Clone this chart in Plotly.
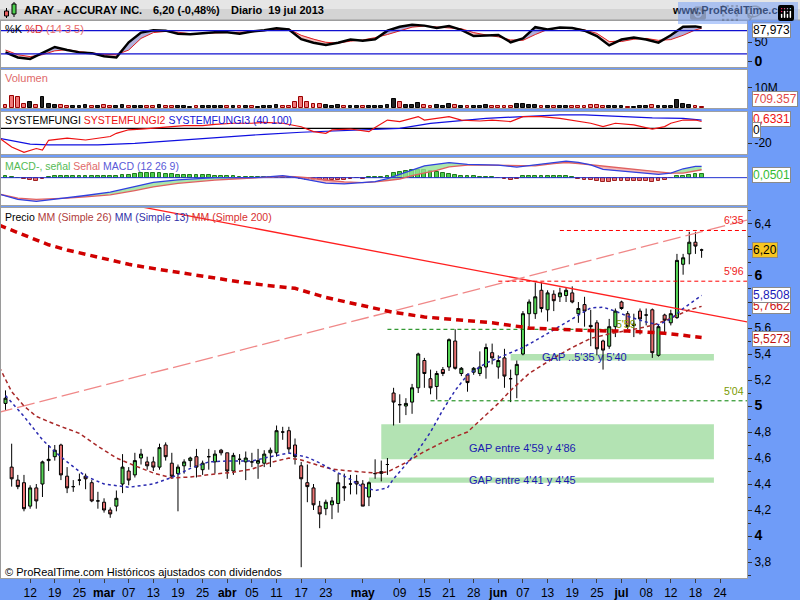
import plotly.graph_objects as go

# ---------------- data ----------------
feb_days = [6, 7, 8, 11, 12, 13, 14, 15, 19, 20, 21, 22, 25, 26, 27, 28]
mar_days = [1, 4, 5, 6, 7, 8, 11, 12, 13, 14, 15, 18, 19, 20, 21, 22, 25, 26, 27, 28]
apr_days = [1, 2, 3, 4, 5, 8, 9, 10, 11, 12, 15, 16, 17, 18, 19, 22, 23, 24, 25, 26, 29, 30]
may_days = [1, 2, 3, 6, 7, 8, 9, 10, 13, 14, 15, 16, 17, 20, 21, 22, 23, 24, 28, 29, 30, 31]
jun_days = [3, 4, 5, 6, 7, 10, 11, 12, 13, 14, 17, 18, 19, 20, 21, 24, 25, 26, 27, 28]
jul_days = [1, 2, 3, 5, 8, 9, 10, 11, 12, 15, 16, 17, 18, 19]
future_jul_days = [22, 23, 24, 25, 26]

tick_dates = ["2013-02-12", "2013-02-19", "2013-02-25", "2013-03-01", "2013-03-07", "2013-03-13",
              "2013-03-19", "2013-03-25", "2013-04-01", "2013-04-05", "2013-04-11", "2013-04-17",
              "2013-04-23", "2013-05-01", "2013-05-09", "2013-05-15", "2013-05-21", "2013-05-28",
              "2013-06-03", "2013-06-07", "2013-06-13", "2013-06-19", "2013-06-25", "2013-07-01",
              "2013-07-08", "2013-07-12", "2013-07-18", "2013-07-24"]
tick_labels = ["12", "19", "25", "mar", "07", "13", "19", "25", "abr", "05", "11", "17", "23", "may",
               "09", "15", "21", "28", "jun", "07", "13", "19", "25", "jul", "08", "12", "18", "24"]

open_ = [5.02, 4.53, 4.43, 4.41, 4.23, 4.37, 4.40, 4.58, 4.61, 4.70,
         4.46, 4.38, 4.43, 4.46, 4.41, 4.27, 4.26, 4.20, 4.23, 4.40,
         4.50, 4.47, 4.60, 4.57, 4.57, 4.53, 4.70, 4.56, 4.48, 4.54,
         4.58, 4.61, 4.51, 4.61, 4.57, 4.66, 4.64, 4.50, 4.59, 4.57,
         4.57, 4.56, 4.56, 4.64, 4.64, 4.80, 4.81, 4.70, 4.54, 4.41,
         4.37, 4.23, 4.21, 4.24, 4.25, 4.38, 4.40, 4.42, 4.40, 4.30,
         4.48, 4.495, 4.55, 5.10, 5.01, 5.00, 5.03, 5.14, 5.35, 5.21,
         5.15, 5.28, 5.30, 5.50, 5.25, 5.24, 5.26, 5.25, 5.30, 5.41,
         5.30, 5.37, 5.21, 5.24, 5.40, 5.71, 5.71, 5.89, 5.74, 5.86,
         5.84, 5.85, 5.87, 5.71, 5.78, 5.62, 5.64, 5.50, 5.46, 5.61,
         5.80, 5.71, 5.63, 5.73, 5.70, 5.74, 5.39, 5.70, 5.64, 5.68,
         6.09, 6.17, 6.26, 6.20]
high = [5.12, 4.71, 4.47, 4.47, 4.39, 4.40, 4.58, 4.70, 4.70, 4.71,
        4.53, 4.43, 4.48, 4.48, 4.43, 4.34, 4.29, 4.22, 4.35, 4.63,
        4.53, 4.64, 4.67, 4.61, 4.61, 4.71, 4.72, 4.64, 4.55, 4.59,
        4.61, 4.67, 4.58, 4.67, 4.66, 4.67, 4.64, 4.64, 4.63, 4.65,
        4.64, 4.67, 4.66, 4.68, 4.85, 4.84, 4.84, 4.75, 4.57, 4.55,
        4.40, 4.27, 4.28, 4.30, 4.48, 4.48, 4.47, 4.47, 4.43, 4.42,
        4.59, 4.58, 4.60, 5.14, 5.09, 5.06, 5.17, 5.41, 5.37, 5.28,
        5.27, 5.30, 5.52, 5.59, 5.30, 5.25, 5.30, 5.42, 5.48, 5.48,
        5.39, 5.44, 5.28, 5.35, 5.73, 5.82, 5.95, 5.95, 5.89, 5.89,
        5.91, 5.91, 5.92, 5.80, 5.84, 5.74, 5.66, 5.51, 5.67, 5.75,
        5.81, 5.73, 5.71, 5.75, 5.75, 5.75, 5.63, 5.71, 5.74, 6.17,
        6.17, 6.34, 6.34, 6.21]
low = [4.97, 4.38, 4.36, 4.19, 4.21, 4.21, 4.30, 4.50, 4.58, 4.43,
       4.33, 4.34, 4.39, 4.36, 4.26, 4.21, 4.18, 4.14, 4.19, 4.33,
       4.39, 4.45, 4.55, 4.51, 4.50, 4.51, 4.58, 4.44, 4.19, 4.48,
       4.53, 4.45, 4.47, 4.51, 4.48, 4.62, 4.44, 4.47, 4.55, 4.43,
       4.53, 4.44, 4.53, 4.53, 4.61, 4.74, 4.64, 4.55, 3.76, 4.26,
       4.20, 4.06, 4.16, 4.13, 4.18, 4.27, 4.32, 4.32, 4.23, 4.23,
       4.44, 4.42, 4.47, 4.85, 4.87, 4.93, 4.94, 5.10, 5.14, 5.09,
       5.05, 5.23, 5.27, 5.28, 5.23, 5.11, 5.24, 5.23, 5.21, 5.32,
       5.21, 5.14, 5.03, 5.06, 5.39, 5.61, 5.67, 5.72, 5.65, 5.73,
       5.80, 5.80, 5.79, 5.64, 5.61, 5.46, 5.39, 5.28, 5.44, 5.53,
       5.74, 5.59, 5.53, 5.55, 5.62, 5.37, 5.38, 5.55, 5.62, 5.67,
       6.01, 6.09, 6.17, 6.14]
close = [5.06, 4.44, 4.38, 4.21, 4.37, 4.27, 4.57, 4.59, 4.66, 4.47,
         4.37, 4.38, 4.43, 4.44, 4.27, 4.27, 4.20, 4.17, 4.29, 4.53,
         4.43, 4.58, 4.63, 4.54, 4.53, 4.68, 4.61, 4.46, 4.53, 4.57,
         4.60, 4.53, 4.56, 4.61, 4.63, 4.64, 4.50, 4.62, 4.59, 4.60,
         4.57, 4.58, 4.63, 4.66, 4.81, 4.80, 4.67, 4.61, 4.44, 4.38,
         4.24, 4.17, 4.26, 4.27, 4.41, 4.37, 4.40, 4.40, 4.23, 4.41,
         4.48, 4.482, 4.55, 5.03, 5.01, 5.02, 5.14, 5.40, 5.25, 5.14,
         5.25, 5.25, 5.51, 5.29, 5.29, 5.18, 5.29, 5.30, 5.45, 5.37,
         5.35, 5.23, 5.21, 5.32, 5.71, 5.80, 5.84, 5.75, 5.87, 5.81,
         5.87, 5.89, 5.80, 5.75, 5.73, 5.61, 5.44, 5.43, 5.61, 5.73,
         5.75, 5.61, 5.62, 5.67, 5.70, 5.41, 5.61, 5.66, 5.71, 6.12,
         6.14, 6.26, 6.23, 6.20]

volume_m = [1.5, 5.6, 5.3, 1.8, 2.9, 1.6, 5.3, 2.0, 1.5, 1.4,
            1.2, 1.0, 1.1, 1.3, 1.2, 1.0, 1.4, 1.1, 1.0, 1.3,
            1.2, 1.0, 1.0, 0.9, 1.1, 1.4, 1.2, 1.0, 1.0, 0.8,
            0.7, 0.9, 0.8, 0.9, 1.0, 0.8, 1.2, 1.0, 0.8, 0.9,
            0.8, 0.7, 0.9, 1.0, 1.5, 1.0, 1.2, 3.0, 5.3, 3.0,
            2.0, 1.8, 1.5, 1.2, 1.6, 1.0, 1.0, 0.9, 1.2, 1.0,
            1.2, 1.0, 1.3, 4.5, 3.0, 1.5, 1.5, 2.5, 1.5, 1.2,
            1.3, 1.0, 1.8, 1.5, 1.0, 1.0, 0.9, 1.2, 1.4, 1.0,
            1.2, 1.0, 1.0, 2.0, 2.0, 1.5, 1.5, 1.2, 1.0, 1.1,
            1.0, 0.9, 1.0, 1.2, 1.0, 1.5, 1.3, 1.2, 1.1, 1.0,
            0.8, 0.7, 0.6, 0.8, 1.0, 1.5, 1.2, 1.0, 1.1, 4.0,
            2.0, 1.5, 1.0, 0.709357]

# moving averages read at sample sessions (session number from 6 Feb 2013)
ma13_session = [0, 3, 6, 8, 10, 13, 16, 20, 24, 27, 30, 33, 36, 40, 43, 46, 49, 51, 53, 56, 58, 60, 62,
                63, 65, 67, 69, 71, 73, 75, 78, 81, 84, 87, 90, 93, 95, 97, 99, 101, 104, 106, 108,
                110, 112, 113]
ma13 = [5.08, 4.92, 4.74, 4.65, 4.57, 4.46, 4.40, 4.375, 4.40, 4.45, 4.52, 4.57, 4.577, 4.577, 4.61,
        4.638, 4.605, 4.562, 4.51, 4.435, 4.377, 4.35, 4.37, 4.44, 4.55, 4.66, 4.80, 4.97, 5.12, 5.24,
        5.33, 5.39, 5.45, 5.53, 5.615, 5.70, 5.755, 5.76, 5.73, 5.69, 5.646, 5.625, 5.67, 5.75, 5.82,
        5.8508]
ma26_session = [-1, 1, 3, 5, 8, 12, 15, 18, 21, 24, 27, 30, 34, 37, 40, 43, 46, 48, 51, 53, 56, 60, 62,
                65, 68, 72, 75, 78, 80, 82, 85, 89, 92, 95, 98, 102, 105, 108, 111, 113]
ma26 = [5.30, 5.11, 5.00, 4.92, 4.86, 4.79, 4.69, 4.60, 4.54, 4.485, 4.446, 4.454, 4.477, 4.49,
        4.515, 4.565, 4.60, 4.585, 4.54, 4.515, 4.50, 4.485, 4.492, 4.565, 4.65, 4.745, 4.80, 4.93,
        5.02, 5.12, 5.25, 5.37, 5.45, 5.52, 5.555, 5.59, 5.62, 5.675, 5.74, 5.7662]
ma200_session = [-1, 4, 7, 10, 14, 17, 20, 23, 27, 30, 34, 38, 42, 47, 52, 57, 63, 68, 74, 79, 85, 90,
                 96, 101, 107, 113]
ma200 = [6.39, 6.30, 6.24, 6.20, 6.155, 6.12, 6.09, 6.065, 6.035, 6.015, 5.985, 5.955, 5.93, 5.905,
         5.835, 5.78, 5.72, 5.685, 5.66, 5.64, 5.60, 5.59, 5.578, 5.577, 5.56, 5.5273]

# stochastic %K / %D (14 3 5)
stoch_session = [0, 2, 4, 6, 8, 10, 12, 14, 16, 18, 20, 22, 24, 26, 28, 30, 32, 34, 36, 38, 40, 42, 44,
                 46, 48, 50, 52, 54, 56, 58, 60, 62, 64, 66, 68, 70, 72, 74, 76, 78, 80, 82, 84, 86,
                 88, 90, 92, 94, 96, 98, 100, 102, 104, 106, 108, 110, 112, 113]
stoch_k = [24, 11, 7, 22, 38, 30, 24, 22, 14, 11, 50, 75, 81, 80, 72, 71, 73, 76, 76, 72, 78, 81, 86,
           83, 58, 49, 43, 49, 57, 54, 58, 80, 90, 95, 93, 87, 92, 82, 66, 67, 69, 50, 60, 89, 83, 88,
           87, 80, 66, 42, 57, 62, 57, 49, 68, 90, 91, 87.973]
stoch_d = [30, 18, 13, 18, 28, 31, 26, 22, 19, 18, 30, 60, 75, 78, 76, 72, 73, 74, 75, 75, 77, 80, 83,
           84, 68, 58, 50, 48, 53, 56, 62, 70, 80, 89, 92, 89, 87, 85, 75, 69, 64, 56, 55, 70, 83, 88,
           87, 82, 73, 52, 52, 58, 60, 55, 57, 68, 82, 86]

# SYSTEMFUNGI (40 100)
sf1_session = [-1, 113]
sf1 = [0, 0]
sf2_session = [-1, 1, 3, 5, 6, 7, 10, 13, 15, 17, 18, 20, 22, 25, 27, 29, 32, 34, 37, 40, 42, 45, 48,
               50, 52, 53, 56, 59, 60, 62, 64, 67, 68, 70, 72, 74, 77, 79, 82, 84, 87, 90, 93, 95, 97,
               99, 102, 105, 107, 108, 110, 112, 113]
sf2 = [-13, -25, -32, -27, -29, -16, -13, -15.6, -13.3, -11, -6.7, -2, -1, 1, 2, 3.5, 3.5, 5.3, 6.7,
       6.7, 8, 6.7, 2, -4.5, -6.7, -2.2, -1, -4.5, 1, 11, 9, 15.6, 11, 13.3, 15.6, 11, 9.7, 11, 9,
       15.6, 15.6, 13.3, 9.7, 6.7, 2.2, 6.7, 4.5, -1, 2.2, 6.7, 11, 11, 9]
sf3_session = [-1, 2, 4, 7, 15, 21, 26, 32, 37, 42, 48, 53, 59, 64, 69, 75, 78, 84, 90, 94, 101, 105,
               110, 113]
sf3 = [-13.3, -18, -21, -22.2, -22.2, -20, -17, -14, -11, -8, -5.3, -3.5, -1.8, 0, 6.5, 11, 13.3,
       15.6, 17.8, 17.8, 15.6, 13.8, 13.3, 11]

# MACD (12 26 9)
macd_session = [-1, 2, 5, 7, 10, 13, 17, 21, 24, 28, 32, 34, 37, 40, 43, 45, 47, 49, 52, 55, 58, 60,
                62, 64, 66, 68, 70, 72, 75, 78, 80, 83, 86, 89, 91, 93, 95, 97, 99, 102, 105, 106,
                108, 110, 112, 113]
macd_line = [-0.25, -0.33, -0.36, -0.34, -0.31, -0.27, -0.22, -0.135, -0.07, -0.034, -0.008, 0, 0, 0,
             0.015, 0.03, 0.003, -0.03, -0.083, -0.095, -0.068, -0.06, -0.015, 0.045, 0.115, 0.18,
             0.20, 0.228, 0.20, 0.20, 0.19, 0.16, 0.195, 0.23, 0.25, 0.232, 0.195, 0.125, 0.11, 0.09,
             0.065, 0.05, 0.068, 0.135, 0.17, 0.17]
macd_signal = [-0.25, -0.31, -0.33, -0.325, -0.31, -0.29, -0.26, -0.195, -0.14, -0.085, -0.048,
               -0.037, -0.02, -0.005, 0.012, 0.02, 0.014, 0.0, -0.035, -0.063, -0.075, -0.065, -0.043,
               -0.02, 0.03, 0.07, 0.11, 0.165, 0.19, 0.19, 0.19, 0.18, 0.18, 0.212, 0.23, 0.215,
               0.195, 0.172, 0.155, 0.125, 0.09, 0.08, 0.07, 0.07, 0.1, 0.12]
macd_hist = [0.02, 0.01, 0.0, -0.02, -0.04, -0.045, -0.02, 0.01, 0.02, 0.025,
             0.025, 0.025, 0.025, 0.025, 0.025, 0.025, 0.025, 0.03, 0.03, 0.04,
             0.045, 0.055, 0.065, 0.065, 0.065, 0.065, 0.06, 0.055, 0.045, 0.04,
             0.04, 0.04, 0.04, 0.035, 0.03, 0.025, 0.025, 0.02, 0.015, 0.01,
             0.01, 0.01, 0.01, 0.01, 0.01, 0.01, 0.005, -0.01, -0.02, -0.03,
             -0.035, -0.04, -0.045, -0.04, -0.035, -0.03, -0.02, -0.01, -0.02, 0.01,
             0.005, 0.01, 0.03, 0.065, 0.085, 0.1, 0.11, 0.12, 0.11, 0.1,
             0.08, 0.07, 0.06, 0.045, 0.03, 0.02, 0.02, 0.015, 0.015, 0.01,
             -0.01, -0.02, -0.03, -0.02, 0.02, 0.03, 0.03, 0.03, 0.03, 0.03,
             0.03, 0.025, 0.01, -0.02, -0.03, -0.04, -0.05, -0.06, -0.06, -0.05,
             -0.05, -0.05, -0.05, -0.05, -0.05, -0.06, -0.05, -0.04, -0.01, 0.02,
             0.03, 0.045, 0.05, 0.0501]

# drawn objects (price, session)
downtrend_pts = [(30, 6.46), (110, 5.74)]
uptrend_pts = [(0, 4.965), (110, 6.304)]
levels = [  # value, start session, end session (None = to edge), color, label
    (6.35, 90, None, "red", "6'35"),
    (5.96, 80, None, "red", "5'96"),
    (5.59, 62, 98.6, "green", "5'59"),
    (5.04, 69, None, "green", "5'04"),
]
gaps = [  # low, high, start session, end session, label
    (4.59, 4.86, 61, 115, "GAP entre 4'59 y 4'86"),
    (4.41, 4.45, 59, 115, "GAP entre 4'41 y 4'45"),
    (5.35, 5.40, 82, 115, "GAP ..5'35 y 5'40"),
]

# ---------------- helpers ----------------
months = [(2, feb_days), (3, mar_days), (4, apr_days), (5, may_days), (6, jun_days), (7, jul_days)]
dates = [f"2013-{m:02d}-{d:02d}" for m, days in months for d in days]
sessions = dates + [f"2013-07-{d:02d}" for d in future_jul_days]
pos = {d: i for i, d in enumerate(sessions)}
xs = [pos[d] for d in dates]

XMIN, XMAX = -0.73, 120.37
FONT = "Liberation Sans"
BLUE_BAND = "#6f9cf8"
W, H = 800, 600
ML, MR, MT, MB = 1, 53, 21, 22
PW, PH = W - ML - MR, H - MT - MB


def PX(x):
    return (x - ML) / PW


def PY(y):
    return (H - MB - y) / PH


price_dom = [0.0, PY(208)]
macd_dom = [PY(205), PY(158)]
sf_dom = [PY(154), PY(112)]
vol_dom = [PY(108), PY(70)]
sto_dom = [PY(67), 1.0]

fig = go.Figure()


def add(tr):
    fig.add_trace(tr)


def line_tr(x, y, color, width, dash, xa, ya, fill=None, fillcolor=None):
    return go.Scatter(x=x, y=y, mode="lines", line=dict(color=color, width=width, dash=dash),
                      xaxis=xa, yaxis=ya, showlegend=False, hoverinfo="skip",
                      fill=fill, fillcolor=fillcolor)


def fill_between(x, a, b, color, xa, ya):
    top = [max(u, v) for u, v in zip(a, b)]
    add(line_tr(x, b, "rgba(0,0,0,0)", 0, None, xa, ya))
    add(line_tr(x, top, "rgba(0,0,0,0)", 0, None, xa, ya, fill="tonexty", fillcolor=color))


# ----- stochastic panel (x2,y2)
fill_between(stoch_session, stoch_k, stoch_d, "rgba(150,150,205,0.75)", "x2", "y2")
fill_between(stoch_session, stoch_d, stoch_k, "rgba(240,160,160,0.65)", "x2", "y2")
add(line_tr(stoch_session, stoch_d, "#e02020", 1, None, "x2", "y2"))
add(line_tr(stoch_session, stoch_k, "black", 2.5, None, "x2", "y2"))

# ----- volume panel (x3,y3)
vcolors, vlines = [], []
for i, c in enumerate(close):
    prev = close[i - 1] if i > 0 else 5.30
    if c < prev:
        vcolors.append("#f07878")
        vlines.append("#990000")
    else:
        vcolors.append("#222222")
        vlines.append("#000000")
add(go.Bar(x=xs, y=[v * 1e6 for v in volume_m], marker=dict(color=vcolors, line=dict(color=vlines, width=1)),
           width=0.62, xaxis="x3", yaxis="y3", showlegend=False, hoverinfo="skip"))

# ----- systemfungi panel (x4,y4)
add(line_tr(sf1_session, sf1, "black", 1.2, None, "x4", "y4"))
add(line_tr(sf3_session, sf3, "#1010e0", 1.2, None, "x4", "y4"))
add(line_tr(sf2_session, sf2, "#ee1111", 1.2, None, "x4", "y4"))

# ----- MACD panel (x5,y5)
fill_between(macd_session, macd_line, macd_signal, "rgba(150,225,150,0.8)", "x5", "y5")
fill_between(macd_session, macd_signal, macd_line, "rgba(240,160,160,0.75)", "x5", "y5")
hcol = ["#4ccc4c" if h >= 0 else "#e87070" for h in macd_hist]
hline = ["#207a20" if h >= 0 else "#a02020" for h in macd_hist]
add(go.Bar(x=xs, y=macd_hist, marker=dict(color=hcol, line=dict(color=hline, width=1)), width=0.62,
           xaxis="x5", yaxis="y5", showlegend=False, hoverinfo="skip"))
add(line_tr([XMIN, XMAX], [0, 0], "#2030d0", 1, None, "x5", "y5"))
add(line_tr(macd_session, macd_signal, "#e06060", 1.3, None, "x5", "y5"))
add(line_tr(macd_session, macd_line, "#3040e0", 1.3, None, "x5", "y5"))

# ----- price panel (x,y)
(x0, p0), (x1, p1) = downtrend_pts
s = (p1 - p0) / (x1 - x0)
add(line_tr([XMIN - 1, XMAX + 1], [p0 + s * (XMIN - 1 - x0), p0 + s * (XMAX + 1 - x0)], "#ff2020", 1.3,
            None, "x", "y"))
(x0, p0), (x1, p1) = uptrend_pts
s = (p1 - p0) / (x1 - x0)
add(line_tr([XMIN - 1, XMAX + 1], [p0 + s * (XMIN - 1 - x0), p0 + s * (XMAX + 1 - x0)], "#f08888", 1.3,
            "18px,5px", "x", "y"))

for val, st, en, col, lab in levels:
    c = "#ff0000" if col == "red" else "#008000"
    add(line_tr([st, en if en is not None else XMAX + 1], [val, val], c, 1, "4px,3px", "x", "y"))

add(go.Candlestick(x=xs, open=open_, high=high, low=low, close=close, xaxis="x", yaxis="y",
                   increasing=dict(fillcolor="#55d455", line=dict(color="black", width=1)),
                   decreasing=dict(fillcolor="#e87272", line=dict(color="black", width=1)),
                   whiskerwidth=0, showlegend=False, hoverinfo="skip"))

add(line_tr(ma26_session, ma26, "#a82828", 1.5, "4px,3px", "x", "y"))
add(line_tr(ma13_session, ma13, "#2a2ab0", 1.5, "3px,3px", "x", "y"))
add(line_tr(ma200_session, ma200, "#d00000", 3.5, "7px,5px", "x", "y"))

# ---------------- layout ----------------
shapes = []
# title bar (two-tone to mimic the gradient)
shapes.append(dict(type="rect", xref="paper", yref="paper", x0=PX(0), x1=PX(W), y0=PY(20), y1=PY(0),
                   fillcolor="#d4d4d4", line=dict(width=0), layer="above"))
shapes.append(dict(type="rect", xref="paper", yref="paper", x0=PX(0), x1=PX(W), y0=PY(9), y1=PY(0),
                   fillcolor="#e6e6e6", line=dict(width=0), layer="above"))
shapes.append(dict(type="line", xref="paper", yref="paper", x0=PX(0), x1=PX(W), y0=PY(20), y1=PY(20),
                   line=dict(color="#9a9a9a", width=1)))
shapes.append(dict(type="line", xref="paper", yref="paper", x0=PX(0.5), x1=PX(0.5), y0=PY(578), y1=PY(20),
                   line=dict(color="#9a9a9a", width=1)))
# candle icon
shapes.append(dict(type="line", xref="paper", yref="paper", x0=PX(6.5), x1=PX(6.5), y0=PY(18), y1=PY(8),
                   line=dict(color="black", width=1)))
shapes.append(dict(type="rect", xref="paper", yref="paper", x0=PX(4.5), x1=PX(8.5), y0=PY(16), y1=PY(11),
                   fillcolor="#e86060", line=dict(color="black", width=1)))
shapes.append(dict(type="line", xref="paper", yref="paper", x0=PX(14), x1=PX(14), y0=PY(17), y1=PY(2),
                   line=dict(color="black", width=1)))
shapes.append(dict(type="rect", xref="paper", yref="paper", x0=PX(12), x1=PX(16), y0=PY(14), y1=PY(4),
                   fillcolor="#50d050", line=dict(color="black", width=1)))
# stochastic guide lines
for lv in (20, 80):
    shapes.append(dict(type="line", xref="paper", yref="y2", x0=0, x1=1, y0=lv, y1=lv,
                       line=dict(color="#1010d0", width=1.2)))
# gap rectangles
for lo, hi, st, en, lab in gaps:
    shapes.append(dict(type="rect", xref="x", yref="y", x0=st, x1=en, y0=lo, y1=hi,
                       fillcolor="#b3e3b3", line=dict(width=0), layer="below"))

annotations = []


def ann(text, x, y, xref="paper", yref="paper", color="black", size=11, xanchor="left",
        yanchor="middle", **kw):
    d = dict(text=text, x=x, y=y, xref=xref, yref=yref, showarrow=False, xanchor=xanchor,
             yanchor=yanchor, font=dict(family=FONT, size=size, color=color))
    d.update(kw)
    annotations.append(d)


# header texts
ann("<b>ARAY - ACCURAY INC.</b>", PX(22), PY(10), size=11)
ann("<b>6,20 (-0,48%)</b>", PX(151), PY(10), size=11)
ann("<b>Diario  19 jul 2013</b>", PX(229), PY(10), size=11)
ann("<b>www.ProRealTime.com</b>", PX(796), PY(10), size=11, xanchor="right")

# panel titles
ann("%K <span style='color:#e03030'>%D</span> <span style='color:#e86a6a'>(14 3 5)</span>",
    PX(3), PY(29), size=11)
ann("Volumen", PX(3), PY(78), color="#e06a6a", size=11)
ann("SYSTEMFUNGI <span style='color:#ee1111'>SYSTEMFUNGI2</span> "
    "<span style='color:#1515d5'>SYSTEMFUNGI3 (40 100)</span>", PX(3), PY(120), size=10.5)
ann("<span style='color:#55bb55'>MACD-, señal</span> <span style='color:#e06868'>Señal</span> "
    "<span style='color:#5a5ad8'>MACD (12 26 9)</span>", PX(3), PY(166), size=10.5)
ann("Precio <span style='color:#b03a3a'>MM (Simple 26)</span> <span style='color:#3030a8'>MM (Simple 13)</span> "
    "<span style='color:#d83030'>MM (Simple 200)</span>", PX(3), PY(217), size=10.5)
ann("© ProRealTime.com Históricos ajustados con dividendos", PX(3), PY(572), size=11)

# level labels inside price panel
for val, st, en, col, lab in levels:
    c = "#ee2222" if col == "red" else "#7a9a00"
    if en is None:
        ann(lab, 1.0, val, yref="y", color=c, size=10.5, xanchor="right", yanchor="bottom", yshift=2,
            xshift=-1)
    else:
        ann(lab, en, val, xref="x", yref="y", color=c, size=10.5, xanchor="left", yanchor="bottom",
            yshift=-3, xshift=1)
for lo, hi, st, en, lab in gaps:
    if lab.startswith("GAP .."):
        ann(lab, 86.8, (lo + hi) / 2, xref="x", yref="y", color="#1a1ab0", size=11)
    else:
        ann(lab, 74.9, (lo + hi) / 2 if hi - lo < 0.1 else 4.68, xref="x", yref="y", color="#1a1ab0",
            size=11)

# right-side value boxes
box = dict(bgcolor="white", bordercolor="#8a8a8a", borderwidth=1, borderpad=0)
ann("87,973", 1.0, 81.5, yref="y2", size=12, xshift=5, **box)
ann("709.357", 1.0, 4.35e6, yref="y3", size=12, color="#e04848", xshift=5, **box)
ann("0,6331", 1.0, 10.4, yref="y4", size=12, color="#ee1111", xshift=5, yshift=1, **box)
ann("0", 1.0, -0.5, yref="y4", size=12, xshift=5, yshift=-1, **box)
ann("0,0501", 1.0, 0.045, yref="y5", size=12, color="#33bb33", xshift=5, **box)
ann("6,20", 1.0, 6.20, yref="y", size=12, xshift=5, bgcolor="#f7c520", bordercolor="#8a8a8a",
    borderwidth=1, borderpad=0)
ann("5,7662", 1.0, 5.7662, yref="y", size=12, color="#cc1111", xshift=5, **box)
ann("5,8508", 1.0, 5.8508, yref="y", size=12, color="#1a1ab8", xshift=5, **box)
ann("5,5273", 1.0, 5.5273, yref="y", size=12, color="#c01010", xshift=5, yshift=-2, **box)

common_x = dict(range=[XMIN, XMAX], showgrid=False, zeroline=False, showline=True, mirror=True,
                linecolor="#a0a0a0", linewidth=1, showticklabels=False, ticks="", fixedrange=True)
common_y = dict(showgrid=False, zeroline=False, showline=True, mirror=True, linecolor="#a0a0a0",
                linewidth=1, side="right", ticks="outside", ticklen=4, tickcolor="#303030",
                tickfont=dict(family=FONT, size=12, color="black"), fixedrange=True)


def big(t):
    return f"<span style='font-size:14px'><b>{t}</b></span>"


pvals = [3.8, 4.0, 4.2, 4.4, 4.6, 4.8, 5.0, 5.2, 5.4, 5.6, 5.8, 6.0, 6.2, 6.4]
hidden = (5.8, 6.2)  # covered by value boxes in the reference
ptext = []
for v in pvals:
    if any(abs(v - h) < 1e-9 for h in hidden):
        ptext.append("")
    elif abs(v - round(v)) < 1e-9:
        ptext.append(big(f"{v:.0f}"))
    else:
        ptext.append(f"{v:.1f}".replace(".", ","))
tick_x = [pos[d] for d in tick_dates]
tick_t = [f"<b>{t}</b>" if t.isalpha() else t for t in tick_labels]

fig.update_layout(
    width=W, height=H, margin=dict(l=ML, r=MR, t=MT, b=MB, pad=0),
    paper_bgcolor=BLUE_BAND, plot_bgcolor="white", showlegend=False,
    font=dict(family=FONT, size=12, color="black"),
    xaxis=dict(common_x, anchor="y", showticklabels=True, tickvals=tick_x, ticktext=tick_t,
               ticks="outside", ticklen=4, tickcolor="#404040",
               tickfont=dict(family=FONT, size=12, color="black"), rangeslider=dict(visible=False)),
    xaxis2=dict(common_x, anchor="y2", matches="x"),
    xaxis3=dict(common_x, anchor="y3", matches="x"),
    xaxis4=dict(common_x, anchor="y4", matches="x"),
    xaxis5=dict(common_x, anchor="y5", matches="x"),
    yaxis=dict(common_y, domain=price_dom, anchor="x", range=[3.677, 6.523], tickmode="array",
               tickvals=pvals, ticktext=ptext,
               minor=dict(tickvals=[3.7, 3.9, 4.1, 4.3, 4.5, 4.7, 4.9, 5.1, 5.3, 5.5, 5.7, 5.9, 6.1,
                                    6.3, 6.5], ticklen=3, ticks="outside", tickcolor="#303030")),
    yaxis2=dict(common_y, domain=sto_dom, anchor="x2", range=[-13.7, 104.9], tickmode="array",
                tickvals=[0, 50], ticktext=[big("0"), "50"]),
    yaxis3=dict(common_y, domain=vol_dom, anchor="x3", range=[0, 18.36e6], tickmode="array",
                tickvals=[10e6], ticktext=["10M"]),
    yaxis4=dict(common_y, domain=sf_dom, anchor="x4", range=[-34.3, 21.7], tickmode="array",
                tickvals=[-20], ticktext=["-20"]),
    yaxis5=dict(common_y, domain=macd_dom, anchor="x5", range=[-0.414, 0.298], tickmode="array",
                tickvals=[], ticktext=[]),
    shapes=shapes, annotations=annotations, bargap=0,
)

fig.write_html("out.html", post_script="document.body.style.margin='0px';document.body.style.overflow='hidden';")
